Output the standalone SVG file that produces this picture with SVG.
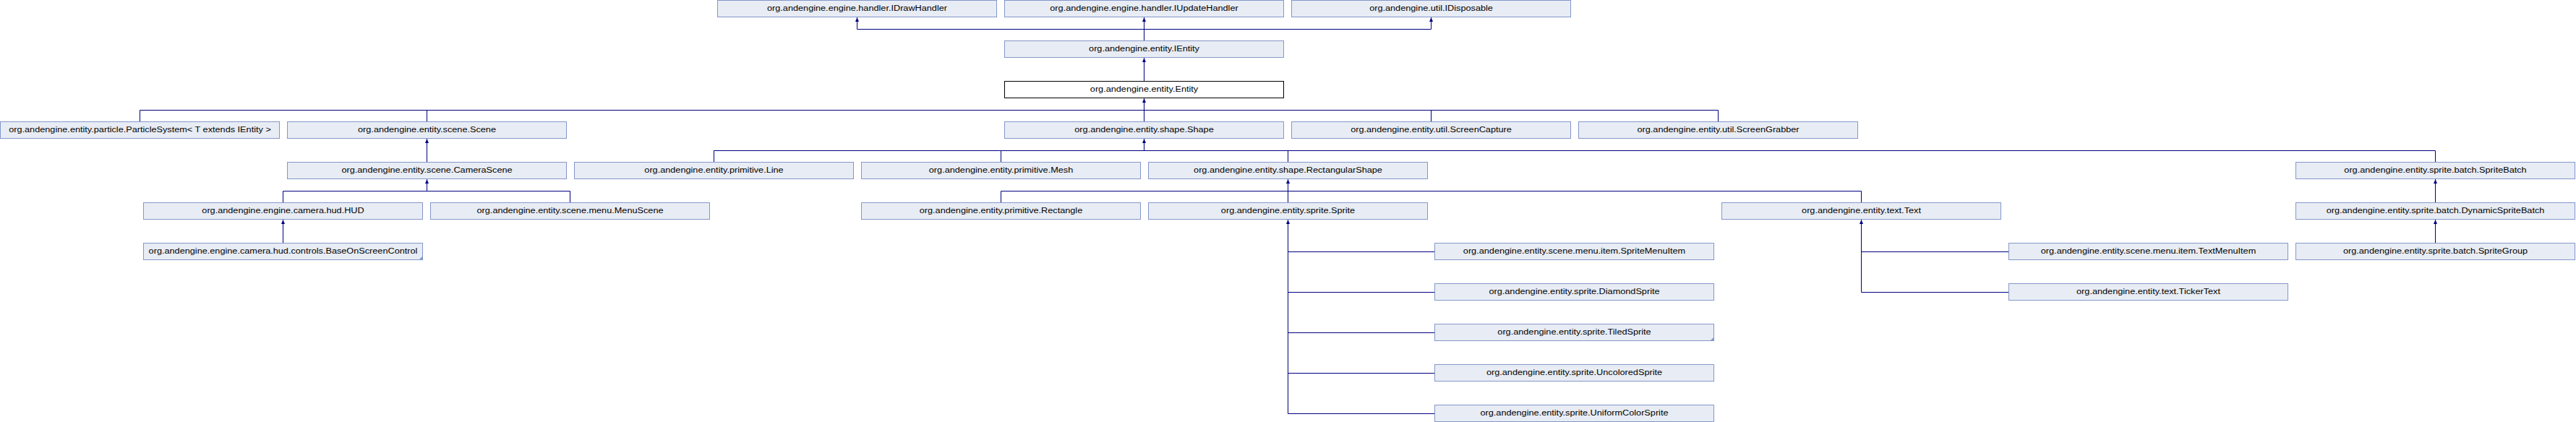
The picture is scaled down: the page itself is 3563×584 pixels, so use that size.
<svg xmlns="http://www.w3.org/2000/svg" width="3563" height="584" viewBox="0 0 3563 584">
<style>
.box{fill:#e8ecf4;stroke:#8497c9;stroke-width:1}
.cur{fill:#ffffff;stroke:#000000;stroke-width:1}
.lbl{font-family:"Liberation Sans",Arial,sans-serif;font-size:10px;fill:#000000;text-anchor:middle}
.corner{fill:#8497c9;stroke:none}
.ln{fill:none;stroke:#000080;stroke-width:1}
.ar{fill:none;stroke:#000080;stroke-width:1;marker-end:url(#arr)}
</style>
<defs>
<marker id="arr" markerUnits="userSpaceOnUse" markerWidth="6" markerHeight="5" viewBox="0 0 6 5" refX="6" refY="2.5" orient="auto">
<polygon points="0,0 6,2.5 0,5" fill="#000080"/>
</marker>
</defs>
<rect width="3563" height="584" fill="#ffffff"/>

<g id="connectors">
<path class="ln" d="M1185.5 40.5 H1979.5"/>
<path class="ar" d="M1185.5 40.5 V24"/>
<path class="ar" d="M1582.5 56 V24"/>
<path class="ar" d="M1979.5 40.5 V24"/>
<path class="ar" d="M1582.5 112 V80"/>
<path class="ln" d="M193.5 152.5 H2376.5 M193.5 152.5 V168 M590.5 152.5 V168 M1582.5 152.5 V168 M1979.5 152.5 V168 M2376.5 152.5 V168"/>
<path class="ar" d="M1582.5 152.5 V136"/>
<path class="ar" d="M590.5 224 V192"/>
<path class="ln" d="M987.5 208.5 H3368.5 M987.5 208.5 V224 M1384.5 208.5 V224 M1781.5 208.5 V224 M3368.5 208.5 V224"/>
<path class="ar" d="M1582.5 208.5 V192"/>
<path class="ln" d="M391.5 264.5 H788.5 M391.5 264.5 V280 M788.5 264.5 V280"/>
<path class="ar" d="M590.5 264.5 V248"/>
<path class="ln" d="M1384.5 264.5 H2574.5 M1384.5 264.5 V280 M2574.5 264.5 V280"/>
<path class="ar" d="M1781.5 280 V248"/>
<path class="ar" d="M3368.5 280 V248"/>
<path class="ar" d="M391.5 336 V304"/>
<path class="ar" d="M3368.5 336 V304"/>
<path class="ar" d="M1781.5 572.5 V304"/>
<path class="ln" d="M1781.5 348.5 H1984 M1781.5 404.5 H1984 M1781.5 460.5 H1984 M1781.5 516.5 H1984 M1781.5 572.5 H1984"/>
<path class="ar" d="M2574.5 404.5 V304"/>
<path class="ln" d="M2574.5 348.5 H2778 M2574.5 404.5 H2778"/>
</g>

<g id="IDrawHandler"><rect class="box" x="992.5" y="0.5" width="386" height="23"/><text class="lbl" transform="translate(1185.5 15) scale(1.27 1)">org.andengine.engine.handler.IDrawHandler</text></g>
<g id="IUpdateHandler"><rect class="box" x="1389.5" y="0.5" width="386" height="23"/><text class="lbl" transform="translate(1582.5 15) scale(1.27 1)">org.andengine.engine.handler.IUpdateHandler</text></g>
<g id="IDisposable"><rect class="box" x="1786.5" y="0.5" width="386" height="23"/><text class="lbl" transform="translate(1979.5 15) scale(1.27 1)">org.andengine.util.IDisposable</text></g>

<g id="IEntity"><rect class="box" x="1389.5" y="56.5" width="386" height="23"/><text class="lbl" transform="translate(1582.5 71) scale(1.27 1)">org.andengine.entity.IEntity</text></g>

<g id="Entity"><rect class="cur" x="1389.5" y="112.5" width="386" height="23"/><text class="lbl" transform="translate(1582.5 127) scale(1.27 1)">org.andengine.entity.Entity</text></g>

<g id="ParticleSystem"><rect class="box" x="0.5" y="168.5" width="386" height="23"/><text class="lbl" transform="translate(193.5 183) scale(1.27 1)">org.andengine.entity.particle.ParticleSystem&lt; T extends IEntity &gt;</text></g>
<g id="Scene"><rect class="box" x="397.5" y="168.5" width="386" height="23"/><text class="lbl" transform="translate(590.5 183) scale(1.27 1)">org.andengine.entity.scene.Scene</text></g>
<g id="Shape"><rect class="box" x="1389.5" y="168.5" width="386" height="23"/><text class="lbl" transform="translate(1582.5 183) scale(1.27 1)">org.andengine.entity.shape.Shape</text></g>
<g id="ScreenCapture"><rect class="box" x="1786.5" y="168.5" width="386" height="23"/><text class="lbl" transform="translate(1979.5 183) scale(1.27 1)">org.andengine.entity.util.ScreenCapture</text></g>
<g id="ScreenGrabber"><rect class="box" x="2183.5" y="168.5" width="386" height="23"/><text class="lbl" transform="translate(2376.5 183) scale(1.27 1)">org.andengine.entity.util.ScreenGrabber</text></g>

<g id="CameraScene"><rect class="box" x="397.5" y="224.5" width="386" height="23"/><text class="lbl" transform="translate(590.5 239) scale(1.27 1)">org.andengine.entity.scene.CameraScene</text></g>
<g id="Line"><rect class="box" x="794.5" y="224.5" width="386" height="23"/><text class="lbl" transform="translate(987.5 239) scale(1.27 1)">org.andengine.entity.primitive.Line</text></g>
<g id="Mesh"><rect class="box" x="1191.5" y="224.5" width="386" height="23"/><text class="lbl" transform="translate(1384.5 239) scale(1.27 1)">org.andengine.entity.primitive.Mesh</text></g>
<g id="RectangularShape"><rect class="box" x="1588.5" y="224.5" width="386" height="23"/><text class="lbl" transform="translate(1781.5 239) scale(1.27 1)">org.andengine.entity.shape.RectangularShape</text></g>
<g id="SpriteBatch"><rect class="box" x="3175.5" y="224.5" width="386" height="23"/><text class="lbl" transform="translate(3368.5 239) scale(1.27 1)">org.andengine.entity.sprite.batch.SpriteBatch</text></g>

<g id="HUD"><rect class="box" x="198.5" y="280.5" width="386" height="23"/><text class="lbl" transform="translate(391.5 295) scale(1.27 1)">org.andengine.engine.camera.hud.HUD</text></g>
<g id="MenuScene"><rect class="box" x="595.5" y="280.5" width="386" height="23"/><text class="lbl" transform="translate(788.5 295) scale(1.27 1)">org.andengine.entity.scene.menu.MenuScene</text></g>
<g id="Rectangle"><rect class="box" x="1191.5" y="280.5" width="386" height="23"/><text class="lbl" transform="translate(1384.5 295) scale(1.27 1)">org.andengine.entity.primitive.Rectangle</text></g>
<g id="Sprite"><rect class="box" x="1588.5" y="280.5" width="386" height="23"/><text class="lbl" transform="translate(1781.5 295) scale(1.27 1)">org.andengine.entity.sprite.Sprite</text></g>
<g id="Text"><rect class="box" x="2381.5" y="280.5" width="386" height="23"/><text class="lbl" transform="translate(2574.5 295) scale(1.27 1)">org.andengine.entity.text.Text</text></g>
<g id="DynamicSpriteBatch"><rect class="box" x="3175.5" y="280.5" width="386" height="23"/><text class="lbl" transform="translate(3368.5 295) scale(1.27 1)">org.andengine.entity.sprite.batch.DynamicSpriteBatch</text></g>

<g id="BaseOnScreenControl"><rect class="box" x="198.5" y="336.5" width="386" height="23"/><path class="corner" d="M579.5 359.5 L584.5 359.5 L584.5 354.5 Z"/><text class="lbl" transform="translate(391.5 351) scale(1.27 1)">org.andengine.engine.camera.hud.controls.BaseOnScreenControl</text></g>
<g id="SpriteMenuItem"><rect class="box" x="1984.5" y="336.5" width="386" height="23"/><text class="lbl" transform="translate(2177.5 351) scale(1.27 1)">org.andengine.entity.scene.menu.item.SpriteMenuItem</text></g>
<g id="TextMenuItem"><rect class="box" x="2778.5" y="336.5" width="386" height="23"/><text class="lbl" transform="translate(2971.5 351) scale(1.27 1)">org.andengine.entity.scene.menu.item.TextMenuItem</text></g>
<g id="SpriteGroup"><rect class="box" x="3175.5" y="336.5" width="386" height="23"/><text class="lbl" transform="translate(3368.5 351) scale(1.27 1)">org.andengine.entity.sprite.batch.SpriteGroup</text></g>

<g id="DiamondSprite"><rect class="box" x="1984.5" y="392.5" width="386" height="23"/><text class="lbl" transform="translate(2177.5 407) scale(1.27 1)">org.andengine.entity.sprite.DiamondSprite</text></g>
<g id="TickerText"><rect class="box" x="2778.5" y="392.5" width="386" height="23"/><text class="lbl" transform="translate(2971.5 407) scale(1.27 1)">org.andengine.entity.text.TickerText</text></g>

<g id="TiledSprite"><rect class="box" x="1984.5" y="448.5" width="386" height="23"/><path class="corner" d="M2365.5 471.5 L2370.5 471.5 L2370.5 466.5 Z"/><text class="lbl" transform="translate(2177.5 463) scale(1.27 1)">org.andengine.entity.sprite.TiledSprite</text></g>
<g id="UncoloredSprite"><rect class="box" x="1984.5" y="504.5" width="386" height="23"/><text class="lbl" transform="translate(2177.5 519) scale(1.27 1)">org.andengine.entity.sprite.UncoloredSprite</text></g>
<g id="UniformColorSprite"><rect class="box" x="1984.5" y="560.5" width="386" height="23"/><text class="lbl" transform="translate(2177.5 575) scale(1.27 1)">org.andengine.entity.sprite.UniformColorSprite</text></g>
</svg>
